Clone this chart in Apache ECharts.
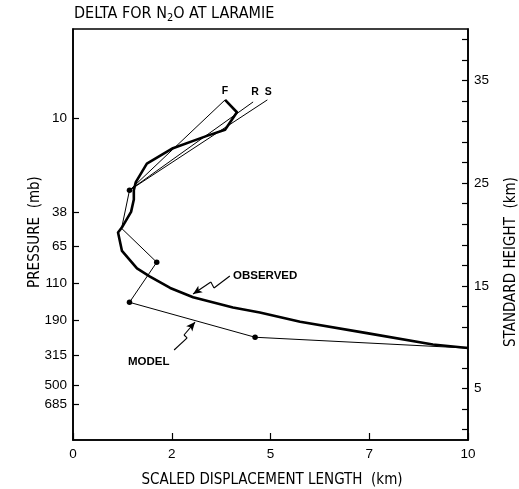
<!DOCTYPE html>
<html><head><meta charset="utf-8">
<script src="https://cdn.jsdelivr.net/npm/echarts@6/dist/echarts.min.js"></script>
<style>html,body{margin:0;padding:0;background:#fff}#c{width:519px;height:489px}</style>
</head><body><div id="c"></div>
<script>
// ---- data ----
const xTickLabels = ['0', '2', '5', '7', '10'];
const pressureLabels = ['10', '38', '65', '110', '190', '315', '500', '685'];
const pressureHeights = [31.3, 22.2, 18.9, 15.3, 11.7, 8.2, 5.3, 3.5];
const heightTicks = [1, 3, 5, 7, 9, 11, 13, 15, 17, 19, 21, 23, 25, 27, 29, 31, 33, 35, 37, 39];
const heightLabels = [5, 15, 25, 35];

const observed = [
  [3.85, 33.1], [4.15, 31.9], [3.85, 30.2], [3.39, 29.6], [2.53, 28.4], [1.87, 26.9],
  [1.59, 25.1], [1.54, 24.3], [1.54, 23.4], [1.47, 22.2], [1.24, 20.7], [1.14, 20.2],
  [1.24, 18.4], [1.62, 16.7], [1.95, 15.9], [2.46, 14.8], [3.04, 13.9], [4.05, 12.9],
  [4.73, 12.4], [5.75, 11.5], [7.44, 10.4], [9.11, 9.3], [10.0, 8.95]
];
const modelPath = [[1.43, 24.3], [1.23, 20.6], [2.12, 17.3], [1.43, 13.4], [4.61, 10.0], [9.97, 8.95]];
const modelDots = [true, false, true, true, true, false];
const fLine = [[1.43, 24.3], [3.85, 33.1]];
const rLine = [[1.43, 24.3], [4.56, 32.9]];
const sLine = [[1.43, 24.3], [4.92, 33.1]];
const branchNames = ['F', 'R', 'S'];
const branchLabelAt = [[3.85, 34.0], [4.61, 33.9], [4.94, 33.9]];
const observedLabelAt = [4.05, 15.96];
const modelLabelAt = [1.39, 7.59];
const observedArrow = [[3.97, 15.96], [3.57, 14.79], [3.49, 15.38], [3.04, 14.21]];
const modelArrow = [[2.56, 8.76], [2.89, 9.93], [2.81, 10.22], [3.09, 11.48]];

// ---- chart ----
const chart = echarts.init(document.getElementById('c'), null, {renderer: 'canvas'});
const FONT = "'Liberation Sans', Arial, sans-serif";
const NARROW = "'Liberation Sans Narrow', 'DejaVu Sans Condensed', 'Liberation Sans', sans-serif";
const black = '#000';

function nearestIdx(arr, v) {
  let b = 0;
  for (let i = 1; i < arr.length; i++) if (Math.abs(arr[i] - v) < Math.abs(arr[b] - v)) b = i;
  return b;
}
function arrowMarks(pts) {
  const d = [];
  for (let i = 0; i < pts.length - 1; i++) {
    const last = i === pts.length - 2;
    d.push([{coord: pts[i], symbol: 'none'}, {coord: pts[i + 1], symbol: last ? 'arrow' : 'none'}]);
  }
  return d;
}

const option = {
  animation: false,
  backgroundColor: '#fff',
  grid: {left: 73, right: 51, top: 29, bottom: 49, show: true, borderColor: black, borderWidth: 1.6},
  xAxis: {
    type: 'value', min: 0, max: 10, interval: 2.5,
    axisLine: {show: true, lineStyle: {color: black, width: 1.6}},
    axisTick: {show: true, inside: true, length: 7, lineStyle: {color: black, width: 1.2}},
    axisLabel: {color: black, fontFamily: FONT, fontSize: 13.5, margin: 7,
      formatter: v => xTickLabels[Math.round(v / 2.5)]},
    splitLine: {show: false}
  },
  yAxis: [
    {
      type: 'value', min: 0, max: 40, position: 'left',
      axisLine: {show: true, lineStyle: {color: black, width: 1.6}},
      axisTick: {show: true, inside: true, length: 6, customValues: pressureHeights, lineStyle: {color: black, width: 1.2}},
      axisLabel: {color: black, fontFamily: FONT, fontSize: 13.5, margin: 6, customValues: pressureHeights,
        formatter: v => pressureLabels[nearestIdx(pressureHeights, v)]},
      splitLine: {show: false}
    },
    {
      type: 'value', min: 0, max: 40, position: 'right',
      axisLine: {show: true, lineStyle: {color: black, width: 1.6}},
      axisTick: {show: true, inside: true, length: 6, customValues: heightTicks, lineStyle: {color: black, width: 1.2}},
      axisLabel: {color: black, fontFamily: FONT, fontSize: 13.5, margin: 6, customValues: heightLabels},
      splitLine: {show: false}
    }
  ],
  series: [
    {
      type: 'line', name: 'model', data: modelPath.map((p, i) => ({value: p, symbol: modelDots[i] ? 'circle' : 'none'})),
      symbolSize: 5.5, showSymbol: true, itemStyle: {color: black}, lineStyle: {color: black, width: 1},
      z: 3,
      markLine: {
        silent: true, symbolSize: [6, 9], label: {show: false},
        lineStyle: {color: black, width: 1.1, type: 'solid'},
        emphasis: {disabled: true},
        data: arrowMarks(observedArrow).concat(arrowMarks(modelArrow))
      }
    },
    {type: 'line', name: 'F', data: fLine, showSymbol: false, lineStyle: {color: black, width: 1}, z: 3},
    {type: 'line', name: 'R', data: rLine, showSymbol: false, lineStyle: {color: black, width: 1}, z: 3},
    {type: 'line', name: 'S', data: sLine, showSymbol: false, lineStyle: {color: black, width: 1}, z: 3},
    {type: 'line', name: 'observed', data: observed, showSymbol: false, lineStyle: {color: black, width: 2.6, join: 'round'}, z: 4}
  ]
};
chart.setOption(option);

// ---- text annotations ----
const ctx = document.createElement('canvas').getContext('2d');
function tw(text, font) { ctx.font = font; return ctx.measureText(text).width; }
const px = p => chart.convertToPixel({gridIndex: 0}, p);

const g = [];
// title with subscript
const tFont = "16px " + NARROW, sFont = "11px " + NARROW;
let tx = 74;
const ty = 15;
g.push({type: 'text', left: tx, top: ty - 9, style: {text: 'DELTA FOR N', font: tFont, fill: black}});
tx += tw('DELTA FOR N', tFont);
g.push({type: 'text', left: tx, top: ty - 2, style: {text: '2', font: sFont, fill: black}});
tx += tw('2', sFont);
g.push({type: 'text', left: tx, top: ty - 9, style: {text: 'O AT LARAMIE', font: tFont, fill: black}});

// axis names
const nameFont = "15px " + NARROW;
g.push({type: 'text', x: 272, y: 480, style: {text: 'SCALED DISPLACEMENT LENGTH  (km)', font: nameFont, fill: black, align: 'center', verticalAlign: 'middle'}});
g.push({type: 'text', x: 35, y: 232, rotation: Math.PI / 2, style: {text: 'PRESSURE  (mb)', font: nameFont, fill: black, align: 'center', verticalAlign: 'middle'}});
g.push({type: 'text', x: 511, y: 262, rotation: Math.PI / 2, style: {text: 'STANDARD HEIGHT  (km)', font: nameFont, fill: black, align: 'center', verticalAlign: 'middle'}});

// F R S
branchNames.forEach((n, i) => {
  const p = px(branchLabelAt[i]);
  g.push({type: 'text', x: p[0], y: p[1], style: {text: n, font: "bold 10.5px " + FONT, fill: black, align: 'center', verticalAlign: 'middle'}});
});
const po = px(observedLabelAt);
g.push({type: 'text', x: po[0], y: po[1], style: {text: 'OBSERVED', font: "bold 11.5px " + FONT, fill: black, align: 'left', verticalAlign: 'middle'}});
const pm = px(modelLabelAt);
g.push({type: 'text', x: pm[0], y: pm[1], style: {text: 'MODEL', font: "bold 11.5px " + FONT, fill: black, align: 'left', verticalAlign: 'middle'}});

chart.setOption({graphic: g});
</script>
</body></html>
